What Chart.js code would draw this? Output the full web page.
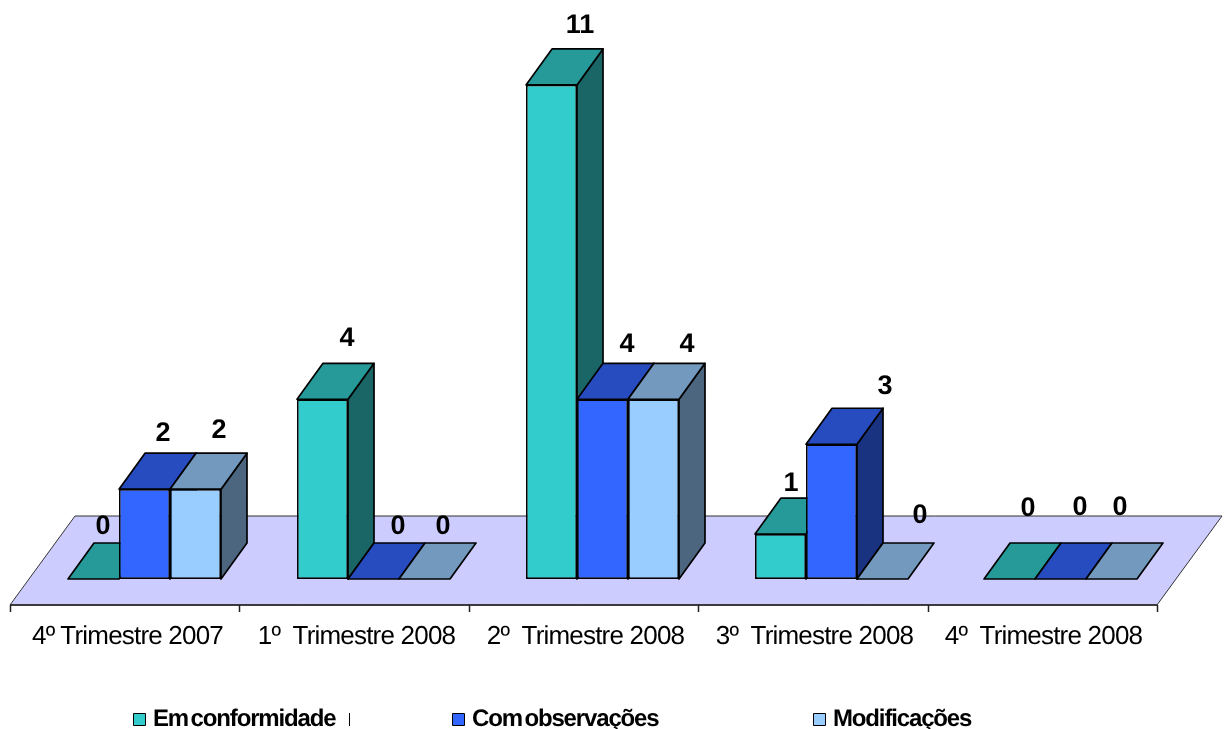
<!DOCTYPE html>
<html>
<head>
<meta charset="utf-8">
<title>Trimestres</title>
<script src="https://cdn.jsdelivr.net/npm/chart.js@4"></script>
<style>
    html, body { margin: 0; padding: 0; background: #fff; }
    #wrap { width: 1228px; height: 729px; }
</style>
</head>
<body>
<div id="wrap"><canvas id="chart"></canvas></div>
<script>
const categories = ['4º Trimestre 2007', '1º  Trimestre 2008', '2º  Trimestre 2008', '3º  Trimestre 2008', '4º  Trimestre 2008'];
const emConformidade = [0, 4, 11, 1, 0];
const comObservacoes = [2, 0, 4, 3, 0];
const modificacoes = [2, 0, 4, 0, 0];

// the source chart placed its value labels loosely, these are offsets from the bar top
const labelDx = [[9.5, 24.5, 28.5, 10.5, 18.5], [18.5, 24.5, 24.5, 53.5, 19.5], [23.5, 18.5, 33.5, 37.5, 8.5]];
const labelDy = [[-52, -61, -59, -51, -70], [-56, -52, -55, -58, -71], [-59, -52, -55, -63, -71]];

const legendX = [133, 452, 813];
const depthX = 26, depthY = 36;

function poly(ctx, pts, fill, stroke, width) {
    ctx.beginPath();
    pts.forEach((p, i) => i ? ctx.lineTo(p[0], p[1]) : ctx.moveTo(p[0], p[1]));
    ctx.closePath();
    ctx.fillStyle = fill;
    ctx.fill();
    ctx.strokeStyle = stroke;
    ctx.lineWidth = width;
    ctx.lineJoin = 'round';
    ctx.stroke();
}

const bars3d = {
    id: 'bars3d',
    beforeDraw(chart) {
        chart.ctx.textRendering = 'geometricPrecision';
        chart.ctx.letterSpacing = '-0.8px';
    },
    beforeDatasetsDraw(chart) {
        const ctx = chart.ctx;
        const x = chart.scales.x, y = chart.scales.y;
        const base = y.getPixelForValue(0);
        const left = x.left - 20, right = x.right - 18;
        const step = (right - left) / categories.length;

        // floor
        poly(ctx, [[left, base + 26], [right, base + 26], [right + 65, base - 63], [left + 65, base - 63]], '#CCCCFF', '#333', 1);
        ctx.beginPath();
        ctx.strokeStyle = '#222';
        ctx.lineWidth = 1.5;
        ctx.moveTo(left, base + 26);
        ctx.lineTo(right, base + 26);
        for (let i = 0; i <= categories.length; i++) {
            ctx.moveTo(Math.round(left + step * i) + 0.5, base + 26);
            ctx.lineTo(Math.round(left + step * i) + 0.5, base + 33);
        }
        ctx.stroke();

        // top and side faces, the library paints the front faces over them
        chart.data.datasets.forEach((ds, i) => {
            chart.getDatasetMeta(i).data.forEach(bar => {
                const l = bar.x - bar.width / 2, r = bar.x + bar.width / 2;
                if (bar.base - bar.y > 0) {
                    poly(ctx, [[r, bar.y], [r + depthX, bar.y - depthY], [r + depthX, bar.base - depthY], [r, bar.base]], ds.sideColor, '#000', 1.7);
                }
                poly(ctx, [[l, bar.y], [r, bar.y], [r + depthX, bar.y - depthY], [l + depthX, bar.y - depthY]], ds.topColor, '#000', 1.7);
            });
        });
    },
    afterDatasetsDraw(chart) {
        const ctx = chart.ctx;
        ctx.save();
        ctx.fillStyle = '#000';
        ctx.textAlign = 'center';
        ctx.textBaseline = 'middle';
        ctx.letterSpacing = '0px';
        ctx.font = 'bold 27px "Liberation Sans"';
        chart.data.datasets.forEach((ds, i) => {
            chart.getDatasetMeta(i).data.forEach((bar, j) => {
                ctx.fillText(ds.data[j], bar.x + labelDx[i][j], bar.y + labelDy[i][j]);
            });
        });

        // legend, spaced unevenly like the source
        ctx.textAlign = 'left';
        ctx.font = 'bold 24px "Liberation Sans"';
        ctx.letterSpacing = '-1.15px';
        ctx.wordSpacing = '-3px';
        chart.data.datasets.forEach((ds, i) => {
            ctx.fillStyle = ds.backgroundColor;
            ctx.strokeStyle = '#000';
            ctx.lineWidth = 1;
            ctx.fillRect(legendX[i] + 0.5, 713.5, 12, 12);
            ctx.strokeRect(legendX[i] + 0.5, 713.5, 12, 12);
            ctx.fillStyle = '#000';
            ctx.fillText(ds.label, legendX[i] + 20, 719);
        });
        ctx.strokeStyle = '#000';
        ctx.beginPath();
        ctx.moveTo(349.5, 713);
        ctx.lineTo(349.5, 726);
        ctx.stroke();
        ctx.restore();
    }
};

new Chart(document.getElementById('chart'), {
    type: 'bar',
    data: {
        labels: categories,
        datasets: [
            { label: 'Em conformidade', data: emConformidade, backgroundColor: '#33CCCC', topColor: '#269999', sideColor: '#1A6666' },
            { label: 'Com observações', data: comObservacoes, backgroundColor: '#3366FF', topColor: '#264CBF', sideColor: '#1A3380' },
            { label: 'Modificações', data: modificacoes, backgroundColor: '#99CCFF', topColor: '#7399BF', sideColor: '#4D6680' }
        ]
    },
    options: {
        responsive: true,
        maintainAspectRatio: false,
        animation: false,
        layout: { padding: { left: 30, right: 53, top: 40, bottom: 0 } },
        datasets: { bar: { categoryPercentage: 0.668, barPercentage: 1, borderWidth: 1.7, borderColor: '#000', borderSkipped: false } },
        plugins: {
            legend: { display: false },
            tooltip: { enabled: false }
        },
        scales: {
            x: {
                grid: { display: false },
                border: { display: false },
                afterFit: scale => { scale.height = 150; },
                ticks: {
                    color: '#000',
                    maxRotation: 0,
                    autoSkip: false,
                    labelOffset: -17,
                    padding: 34,
                    font: { family: '"Liberation Sans"', size: 26 }
                }
            },
            y: {
                display: false,
                min: 0,
                max: 12
            }
        }
    },
    plugins: [bars3d]
});
</script>
</body>
</html>
